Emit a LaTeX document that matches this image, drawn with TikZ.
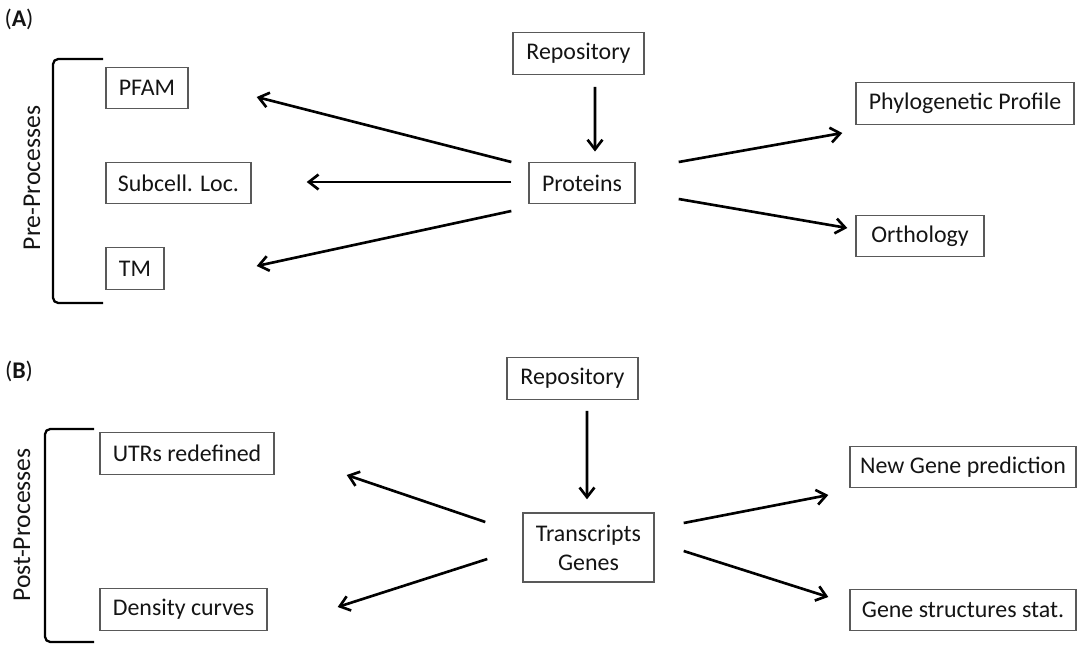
\documentclass[tikz,border=0pt]{standalone}
\usepackage{fontspec}
\setmainfont{Carlito}
\usepackage{tikz}
\usetikzlibrary{arrows.meta, calc, positioning}

\begin{document}
\begin{tikzpicture}[x=0.02cm, y=-0.02cm,
  every node/.style={font=\fontsize{13.6}{16.4}\selectfont, text=black!92},
  box/.style={draw=black!65, line width=0.8pt, minimum height=0.83cm, inner sep=0pt, align=center},
  arr/.style={line width=1.5pt, -{Straight Barb[length=5.5pt, width=8.5pt, line width=1.5pt]}},
  brk/.style={line width=1.3pt, rounded corners=3pt},
  side/.style={rotate=90, font=\fontsize{14.6}{17}\selectfont}]

\useasboundingbox (0,0) rectangle (1081,645);

% (A) proteins
\node (tagA) at (19,19) {(\textbf{A})};
\node (repA)[box, minimum width=2.62cm] at (578.5,53.5) {Repository};
\node (prot)[box, minimum width=2.12cm] at (582,183) {Proteins};
\node (pfam)[box, minimum width=1.64cm] at (147,88) {PFAM};
\node (sub)[box, minimum width=2.9cm] at (178.5,183) {Subcell. Loc.};
\node (tm)[box, minimum width=1.16cm] at (135,268.5) {TM};
\node (phylo)[box, minimum width=4.36cm] at (965,103.5) {Phylogenetic Profile};
\node (ortho)[box, minimum width=2.56cm] at (920,236) {Orthology};

\draw[arr] ($(repA.south)+(16.5,12)$) -- ($(prot.north)+(13,-10)$);
\draw[arr] ($(prot.west)+(-17,-21)$) -- ($(pfam.east)+(68,9)$);
\draw[arr] ($(prot.west)+(-17,-1)$) -- ($(sub.east)+(55,-1)$);
\draw[arr] ($(prot.west)+(-17,28)$) -- ($(tm.east)+(92,-2.5)$);
\draw[arr] ($(prot.east)+(43,-21)$) -- ($(phylo.west)+(-13,29.5)$);
\draw[arr] ($(prot.east)+(43,16)$) -- ($(ortho.west)+(-8,-8)$);

\draw[brk] (103,59) -- (53,59) -- (53,303) -- (103,303);
\node (pre)[side] at (32,178) {Pre-Processes};

% (B) transcripts
\node (tagB) at (19,371) {(\textbf{B})};
\node (repB)[box, minimum width=2.62cm] at (572.5,378.5) {Repository};
\node (trans)[box, minimum width=2.62cm, minimum height=1.38cm] at (588.5,547.5) {Transcripts\\Genes};
\node (utr)[box, minimum width=3.48cm] at (187,453.5) {UTRs redefined};
\node (dens)[box, minimum width=3.34cm] at (183.5,609.5) {Density curves};
\node (ngp)[box, minimum width=4.52cm] at (963,467) {New Gene prediction};
\node (gss)[box, minimum width=4.52cm] at (963,610) {Gene structures stat.};

\draw[arr] ($(repB.south)+(14.5,11)$) -- ($(trans.north)+(-1.5,-13)$);
\draw[arr] ($(trans.west)+(-37,-25.5)$) -- ($(utr.east)+(72,21.5)$);
\draw[arr] ($(trans.west)+(-35,11.5)$) -- ($(dens.east)+(70,-2.5)$);
\draw[arr] ($(trans.east)+(29,-24.5)$) -- ($(ngp.west)+(-21,28)$);
\draw[arr] ($(trans.east)+(29,3.5)$) -- ($(gss.west)+(-21,-13)$);

\draw[brk] (94,429) -- (45,429) -- (45,642) -- (94,642);
\node (post)[side] at (22,525) {Post-Processes};
\end{tikzpicture}
\end{document}
